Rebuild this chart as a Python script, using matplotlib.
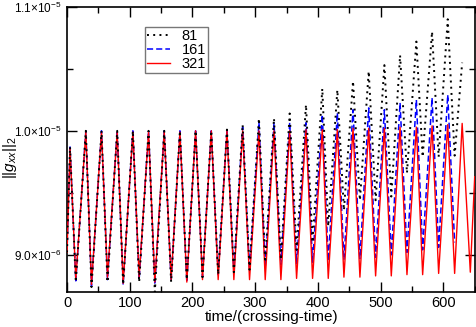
import numpy as np
import matplotlib.pyplot as plt
from matplotlib.ticker import MultipleLocator, FixedLocator

plt.rcParams['font.family'] = ['Liberation Sans', 'DejaVu Sans']
plt.rcParams['mathtext.fontset'] = 'custom'
plt.rcParams['mathtext.rm'] = 'Liberation Sans'
plt.rcParams['mathtext.it'] = 'Liberation Sans:italic'

# times of the maxima / minima of the oscillation (crossing times)
t_peak = [4.8, 30, 55, 80, 105, 130, 155, 180, 205, 230, 255, 280, 306,
          330, 355, 381, 407, 431, 456, 481, 506, 531, 557, 582, 607, 630]
t_trough = [14, 39, 64.5, 89.5, 115, 140, 166, 191, 216, 241, 266, 291, 316,
            341, 366, 391.5, 416.5, 441.5, 467, 492, 517, 542, 567, 592.5, 618, 643]

# values in units of 1e-6
peak_81 = [9.87, 10.0, 10.0, 10.0, 10.0, 10.0, 10.0, 10.0, 10.0, 10.0, 10.01, 10.05, 10.1,
           10.1, 10.14, 10.21, 10.34, 10.33, 10.40, 10.48, 10.53, 10.61, 10.72, 10.80, 10.90, 10.55]
trough_81 = [8.78, 8.74, 8.78, 8.76, 8.78, 8.70, 8.78, 8.80, 8.82, 8.84, 8.86, 8.88, 8.94,
             8.96, 9.04, 9.10, 9.23, 9.36, 9.44, 9.44, 9.47, 9.66, 9.79, 9.79, 9.80]
peak_161 = [9.87, 10.0, 10.0, 10.0, 10.0, 10.0, 10.0, 10.0, 10.0, 10.0, 10.01, 10.03, 10.07,
            10.065, 10.065, 10.065, 10.13, 10.145, 10.17, 10.185, 10.17, 10.226, 10.25, 10.266, 10.29]
trough_161 = [8.79, 8.75, 8.80, 8.76, 8.80, 8.76, 8.79, 8.78, 8.82, 8.84, 8.86, 8.88, 8.90,
              8.92, 8.93, 8.94, 8.95, 8.96, 8.97, 8.98, 9.00, 9.02, 9.04, 9.06, 9.10]
peak_321 = [9.86, 9.99, 9.99, 9.99, 9.99, 9.99, 9.99, 9.99, 10.0, 10.0, 10.0, 10.0, 10.0,
            10.0, 10.0, 10.01, 10.01, 10.01, 10.02, 10.02, 10.02, 10.03, 10.03, 10.04, 10.05, 10.06]
trough_321 = [8.80, 8.76, 8.82, 8.77, 8.82, 8.78, 8.80, 8.78, 8.80, 8.80, 8.80, 8.80, 8.80,
              8.80, 8.81, 8.81, 8.81, 8.82, 8.82, 8.83, 8.83, 8.84, 8.84, 8.85, 8.85, 8.86]

start_val = 9.02
end_t_321, end_val_321 = 650, 9.63


def build(peaks, troughs, t_end=None, v_end=None):
    t, v = [0.0], [start_val]
    for i in range(len(peaks)):
        t.append(t_peak[i]); v.append(peaks[i])
        if i < len(troughs):
            t.append(t_trough[i]); v.append(troughs[i])
    if t_end is not None:
        t.append(t_end); v.append(v_end)
    return np.array(t), np.array(v) * 1e-6


fig = plt.figure(figsize=(4.77, 3.27), dpi=100)
ax = fig.add_axes([0.1405, 0.107, 0.856, 0.872])

t1, v1 = build(peak_81, trough_81)
t2, v2 = build(peak_161, trough_161)
t3, v3 = build(peak_321, trough_321, end_t_321, end_val_321)

ax.plot(t2, v2, color='blue', linestyle=(0, (4, 2)), linewidth=1.1, label='161', zorder=2)
ax.plot(t3, v3, color='red', linestyle='-', linewidth=1.0, label='321', zorder=3)
ax.plot(t1, v1, color='black', linestyle=(0, (1, 2.2)), linewidth=1.4, label='81', zorder=4)

ax.set_xlim(0, 651)
ax.set_ylim(8.70e-6, 1.1e-5)

ax.xaxis.set_major_locator(MultipleLocator(100))
ax.xaxis.set_minor_locator(MultipleLocator(50))
ax.yaxis.set_major_locator(FixedLocator([9.0e-6, 1.0e-5, 1.1e-5]))
ax.yaxis.set_minor_locator(FixedLocator([9.5e-6, 1.05e-5]))
ax.set_yticklabels([r'$9.0{\times}10^{-6}$', r'$1.0{\times}10^{-5}$', r'$1.1{\times}10^{-5}$'],
                   fontsize=8.5)
ax.tick_params(axis='x', labelsize=10.5, pad=3)
ax.tick_params(axis='y', pad=4)
ax.tick_params(which='both', direction='in', top=True, right=True, width=1)
ax.tick_params(which='major', length=7)
ax.tick_params(which='minor', length=4)
for s in ax.spines.values():
    s.set_linewidth(1.2)

ax.set_xlabel('time/(crossing-time)', fontsize=11, labelpad=0)
ax.set_ylabel(r'$||g_{xx}||_2$', fontsize=11)
ax.yaxis.set_label_coords(-0.118, 0.47)

handles, labels = ax.get_legend_handles_labels()
order = [2, 0, 1]
leg = ax.legend([handles[i] for i in order], [labels[i] for i in order],
                loc='upper left', bbox_to_anchor=(0.19, 0.93), fontsize=10.5,
                frameon=True, fancybox=False, handlelength=1.6, handletextpad=0.8,
                borderpad=0.15, labelspacing=0.0, borderaxespad=0)
leg.get_frame().set_edgecolor('#555555')
leg.get_frame().set_linewidth(1.0)

plt.savefig('out.png', dpi=100)
plt.close()
